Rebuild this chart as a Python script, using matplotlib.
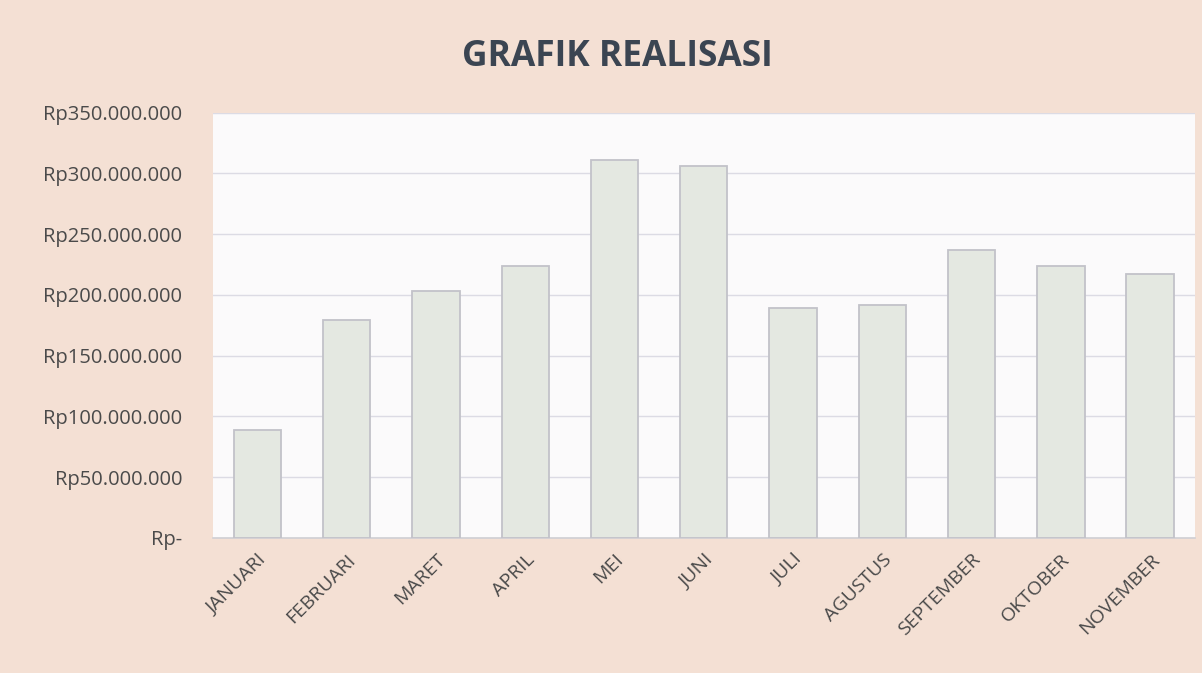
import matplotlib
matplotlib.use("Agg")
import matplotlib.pyplot as plt
from matplotlib.ticker import FuncFormatter

months = ["JANUARI", "FEBRUARI", "MARET", "APRIL", "MEI", "JUNI", "JULI",
          "AGUSTUS", "SEPTEMBER", "OKTOBER", "NOVEMBER"]
realisasi = [89_000_000, 179_000_000, 203_000_000, 224_000_000, 311_000_000,
             306_000_000, 189_000_000, 192_000_000, 237_000_000, 224_000_000,
             217_000_000]
y_ticks = [0, 50_000_000, 100_000_000, 150_000_000, 200_000_000,
           250_000_000, 300_000_000, 350_000_000]
title = "GRAFIK REALISASI"

plt.rcParams['font.family'] = ['Open Sans', 'DejaVu Sans']

fig = plt.figure(figsize=(12.02, 6.73), dpi=100)
fig.patch.set_facecolor('#f4e0d4')
ax = fig.add_axes([0.177, 0.2006, 0.817, 0.632])
ax.set_facecolor('#fbfafb')

x = range(len(months))
ax.bar(x, realisasi, width=0.53, color='#e4e8e1', edgecolor='#c2c2c9',
       linewidth=1.3, zorder=3)

ax.set_xlim(-0.5, len(months) - 0.5)
ax.set_ylim(0, 350_000_000)
ax.set_yticks(y_ticks)


def fmt(v, pos):
    if v == 0:
        return "Rp-"
    return "Rp" + f"{int(v):,}".replace(",", ".")


ax.yaxis.set_major_formatter(FuncFormatter(fmt))
ax.grid(axis='y', color='#dcdbe4', linewidth=1.0, zorder=0)
ax.set_xticks(list(x))
ax.set_xticklabels(months, rotation=45, ha='right', va='top',
                   rotation_mode='anchor', fontsize=14, color='#4a4a4a')
ax.tick_params(axis='y', labelsize=14.5, colors='#4a4a4a', length=0, pad=22)
ax.tick_params(axis='x', length=0, pad=9)
for lbl in ax.get_yticklabels():
    lbl.set_color('#4a4a4a')
for s in ['top', 'right', 'left']:
    ax.spines[s].set_visible(False)
ax.spines['bottom'].set_color('#cfcfd4')
ax.spines['bottom'].set_linewidth(1.2)

fig.text(0.514, 0.916, title, ha='center', va='center', fontsize=25.5,
         fontweight='bold', color='#3b4552')

fig.savefig("out.png", dpi=100, facecolor=fig.get_facecolor())
